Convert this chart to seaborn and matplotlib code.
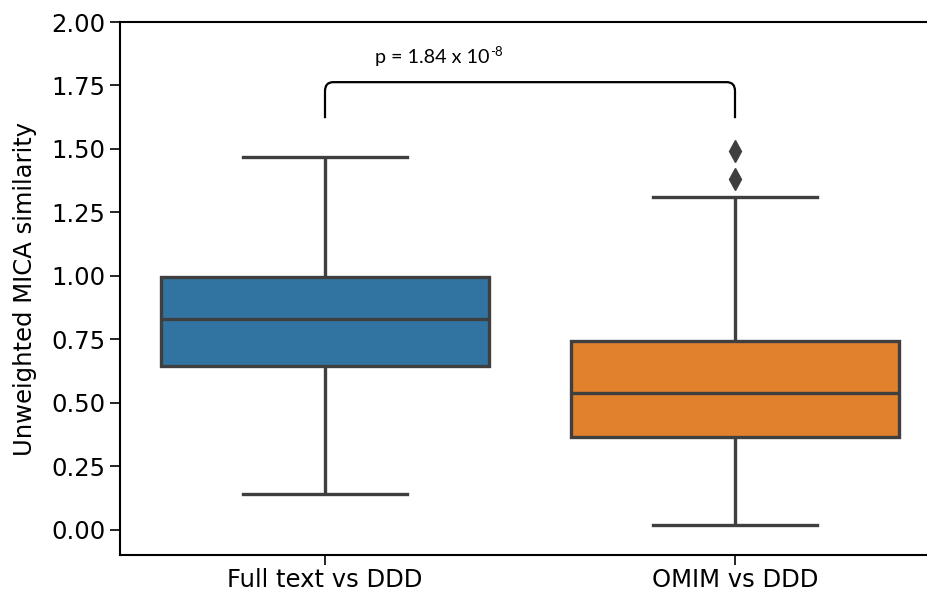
import matplotlib
matplotlib.use("Agg")
import matplotlib.pyplot as plt
from matplotlib.path import Path
from matplotlib.patches import PathPatch
import seaborn as sns
import pandas as pd

# ---- data ----
categories = ["Full text vs DDD", "OMIM vs DDD"]
# sample values chosen so that the box statistics match the picture
full_text_scores = [0.14, 0.645, 0.83, 0.995, 1.47]
omim_scores = [0.02, 0.365, 0.365, 0.365, 0.54, 0.54, 0.54,
               0.745, 0.745, 0.745, 1.31, 1.38, 1.49]
box_colors = ["#3274a1", "#e1812c"]
y_ticks = [0.00, 0.25, 0.50, 0.75, 1.00, 1.25, 1.50, 1.75, 2.00]
y_label = "Unweighted MICA similarity"
p_text = "p = 1.84 x 10"
p_exp = "-8"

df = pd.DataFrame({
    "comparison": [categories[0]] * len(full_text_scores) + [categories[1]] * len(omim_scores),
    "similarity": full_text_scores + omim_scores,
})

fig = plt.figure(figsize=(9.28, 5.91), dpi=100)
ax = fig.add_axes([120 / 928, 1 - 555 / 591, 820 / 928, (555 - 22) / 591])

line_col = "#3f3f3f"
sns.boxplot(
    data=df, x="comparison", y="similarity", hue="comparison",
    order=categories, hue_order=categories, palette=box_colors,
    saturation=1, width=0.8, linewidth=2.4, linecolor=line_col,
    flierprops=dict(marker="d", markersize=11, markerfacecolor=line_col,
                    markeredgecolor=line_col),
    legend=False, ax=ax,
)

ax.set_ylim(-0.1, 2.0)
ax.set_xlim(-0.5, 1.5)
ax.set_yticks(y_ticks)
ax.set_yticklabels([f"{v:.2f}" for v in y_ticks])
ax.set_xlabel("")
ax.set_ylabel(y_label, fontsize=17.5, labelpad=10)
ax.tick_params(labelsize=17.5, length=7, width=1.2)
ax.tick_params(axis="x", pad=2.5)
ax.spines["right"].set_visible(False)
for s in ax.spines.values():
    s.set_linewidth(1.5)

# significance bracket with rounded corners
x0, x1 = 0.0, 1.0
yb, yt = 1.621, 1.763
rx, ry = 0.02, 0.035
verts = [(x0, yb), (x0, yt - ry), (x0, yt), (x0 + rx, yt),
         (x1 - rx, yt), (x1, yt), (x1, yt - ry), (x1, yb)]
codes = [Path.MOVETO, Path.LINETO, Path.CURVE3, Path.CURVE3,
         Path.LINETO, Path.CURVE3, Path.CURVE3, Path.LINETO]
ax.add_patch(PathPatch(Path(verts, codes), fill=False, lw=1.6, color="black",
                       capstyle="butt"))

t = ax.text(0.122, 1.862, p_text, fontsize=14.2, family=["Lato", "DejaVu Sans"],
            va="center", ha="left")
ax.annotate(p_exp, xy=(1, 1), xycoords=t, xytext=(0.5, 2), textcoords="offset points",
            fontsize=9.5, family=["Lato", "DejaVu Sans"], va="top", ha="left")

fig.savefig("out.png", dpi=100)
